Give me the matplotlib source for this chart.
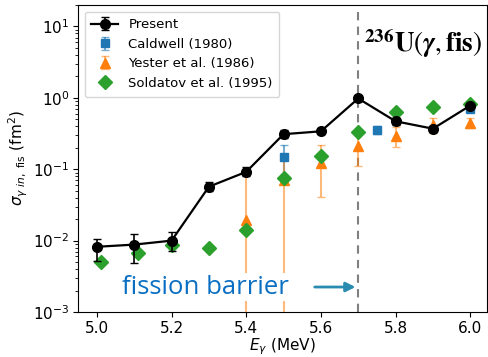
import matplotlib
matplotlib.use("Agg")
import matplotlib.pyplot as plt
import numpy as np

# Present work
E_present = [5.0, 5.1, 5.2, 5.3, 5.4, 5.5, 5.6, 5.7, 5.8, 5.9, 6.0]
sig_present = [0.0082, 0.0088, 0.0100, 0.057, 0.092, 0.31, 0.34, 0.98, 0.47, 0.37, 0.78]
err_present_lo = [0.0030, 0.0039, 0.0028, 0.008, 0.012, 0.04, 0.03, 0.08, 0.05, 0.04, 0.07]
err_present_hi = [0.0024, 0.0036, 0.0034, 0.010, 0.014, 0.05, 0.03, 0.08, 0.05, 0.04, 0.07]

# Caldwell (1980)
E_cald = [5.5, 5.75, 6.0]
sig_cald = [0.148, 0.35, 0.70]
err_cald_lo = [0.065, 0.04, 0.05]
err_cald_hi = [0.072, 0.05, 0.05]

# Yester et al. (1986)
E_yest = [5.4, 5.5, 5.6, 5.7, 5.8, 5.9, 6.0]
sig_yest = [0.0196, 0.070, 0.122, 0.21, 0.29, 0.42, 0.44]
err_yest_lo = [0.0195, 0.0699, 0.081, 0.10, 0.085, 0.10, 0.06]
err_yest_hi = [0.070, 0.080, 0.098, 0.09, 0.10, 0.10, 0.08]

# Soldatov et al. (1995)
E_sold = [5.01, 5.11, 5.2, 5.3, 5.4, 5.5, 5.6, 5.7, 5.8, 5.9, 6.0]
sig_sold = [0.0050, 0.0068, 0.0088, 0.0078, 0.0139, 0.075, 0.155, 0.33, 0.63, 0.74, 0.82]

plt.rcParams['mathtext.fontset'] = 'dejavusans'

fig = plt.figure(figsize=(4.89, 3.57), dpi=100)
ax = fig.add_axes([0.16, 0.126, 0.836, 0.86])

hc = ax.errorbar(E_cald, sig_cald, yerr=[err_cald_lo, err_cald_hi], fmt='s', color='tab:blue',
                 ecolor=(0.12, 0.47, 0.71, 0.6), ms=6, capsize=3, elinewidth=1.5, zorder=3)
hy = ax.errorbar(E_yest, sig_yest, yerr=[err_yest_lo, err_yest_hi], fmt='^', color='tab:orange',
                 ecolor=(1.0, 0.5, 0.05, 0.55), ms=7, capsize=3, elinewidth=1.5, zorder=3)
hs, = ax.plot(E_sold, sig_sold, 'D', color='tab:green', ms=7, zorder=4)
hp = ax.errorbar(E_present, sig_present, yerr=[err_present_lo, err_present_hi], fmt='-o',
                 color='black', ms=7, lw=1.6, capsize=3, elinewidth=1.2, zorder=5)

ax.axvline(5.7, color='gray', ls=(0, (4, 3)), lw=1.5, zorder=1)

ax.set_yscale('log')
ax.set_xlim(4.95, 6.045)
ax.set_ylim(1e-3, 20)
ax.set_xticks([5.0, 5.2, 5.4, 5.6, 5.8, 6.0])
ax.tick_params(labelsize=11, pad=3)
ax.set_xlabel(r'$E_{\gamma}$ (MeV)', fontsize=11, labelpad=0)
ax.set_ylabel(r'$\sigma_{\gamma\ in,\ \mathrm{fis}}$ (fm$^2$)', fontsize=11, labelpad=2)

ax.legend([hp, hc, hy, hs],
          ['Present', 'Caldwell (1980)', 'Yester et al. (1986)', 'Soldatov et al. (1995)'],
          loc='upper left', fontsize=9.5, frameon=True, borderpad=0.5, handlelength=2.0)

ax.text(5.067, 0.00224, 'fission barrier', color='#0A6FC2', fontsize=18.5,
        family='Open Sans', ha='left', va='center', zorder=6,
        bbox=dict(facecolor='white', edgecolor='none', pad=1))
ax.annotate('', xy=(5.70, 0.00224), xytext=(5.576, 0.00224),
            arrowprops=dict(arrowstyle='-|>', color='#2A8BB0', lw=2, mutation_scale=14))

fig.text(0.745, 0.88, r'$^{\mathbf{236}}\mathbf{U}(\boldsymbol{\gamma},\mathbf{fis})$',
         fontsize=19.5, ha='left', va='center', math_fontfamily='stix')

fig.savefig('out.png', dpi=100)
